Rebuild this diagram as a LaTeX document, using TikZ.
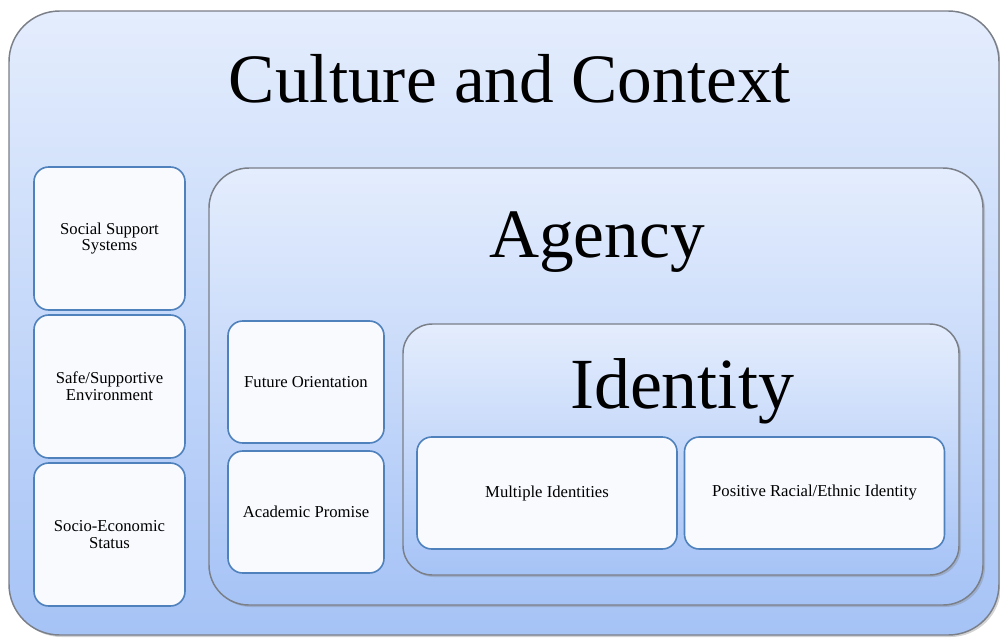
\documentclass[tikz,border=0pt]{standalone}
\usepackage{fontspec}
\setmainfont{Liberation Serif}
\usetikzlibrary{shadows}
\definecolor{paleblue}{HTML}{E4EDFD}
\definecolor{deepblue}{HTML}{A6C3F6}
\definecolor{boxline}{HTML}{4F81BD}
\definecolor{boxfill}{HTML}{F8FAFE}
\definecolor{frameline}{HTML}{7A7F88}
\begin{document}
\begin{tikzpicture}[x=0.75pt,y=-0.75pt,
    frame/.style={draw=frameline,line width=1.1pt,top color=paleblue,bottom color=deepblue,
        drop shadow={shadow xshift=1.5pt,shadow yshift=-1.5pt,opacity=0.35}},
    item/.style={draw=boxline,line width=1.2pt,fill=boxfill,rounded corners=11pt,
        align=center,inner sep=0pt,font=\fontsize{12.5}{12.5}\selectfont},
    title/.style={anchor=base,font=\fontsize{52}{52}\selectfont}]
    \useasboundingbox (0,0) rectangle (1000,637);
    % outer frame: culture and context
    \node[frame,rounded corners=38pt,minimum width=742.5pt,minimum height=468pt] (culture) at (504,323) {};
    \node[title] (culturetitle) at (510,102) {Culture and Context};
    \node[item,minimum width=113.25pt,minimum height=107.25pt] (support) at (109.5,238.5) {Social Support\\Systems};
    \node[item,minimum width=113.25pt,minimum height=107.25pt] (safe) at (109.5,386.5) {Safe/Supportive\\Environment};
    \node[item,minimum width=113.25pt,minimum height=107.25pt] (ses) at (109.5,534.5) {Socio-Economic\\Status};
    % agency
    \node[frame,rounded corners=30pt,minimum width=580.5pt,minimum height=327.75pt] (agency) at (596,386.5) {};
    \node[title] (agencytitle) at (597,257) {Agency};
    \node[item,minimum width=117pt,minimum height=91.5pt] (future) at (306,382) {Future Orientation};
    \node[item,minimum width=117pt,minimum height=91.5pt] (academic) at (306,512) {Academic Promise};
    % identity
    \node[frame,rounded corners=22pt,minimum width=417pt,minimum height=188.25pt] (identity) at (681,449.5) {};
    \node[title,font=\fontsize{54}{54}\selectfont] (identitytitle) at (682,408) {Identity};
    \node[item,minimum width=195pt,minimum height=84pt] (multiple) at (547,493) {Multiple Identities};
    \node[item,minimum width=195pt,minimum height=84pt] (racial) at (814.5,493) {Positive Racial/Ethnic Identity};
\end{tikzpicture}
\end{document}
